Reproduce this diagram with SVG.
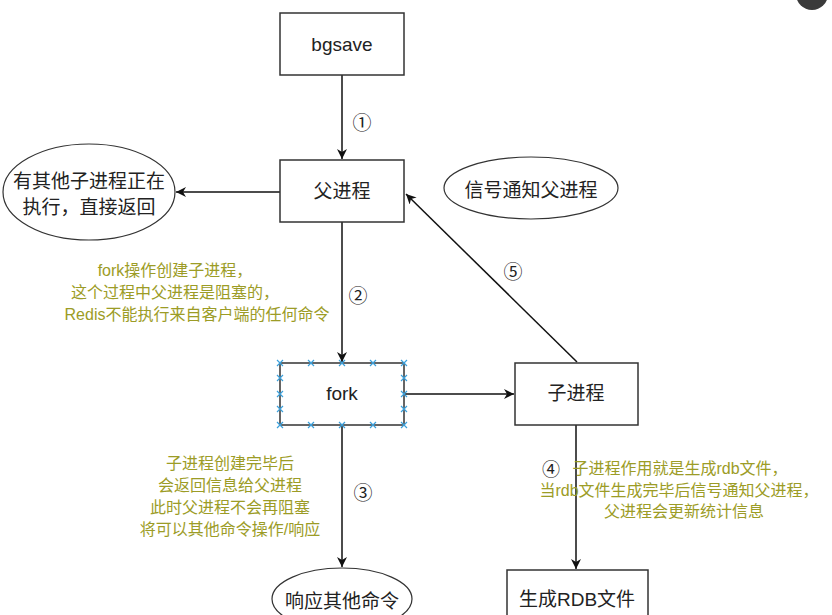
<svg xmlns="http://www.w3.org/2000/svg" width="832" height="615" viewBox="0 0 832 615">
<defs>
<style>
.box{fill:#fff;stroke:#333;stroke-width:1.5}
.ell{fill:#fff;stroke:#333;stroke-width:1.2}
.t{font-family:"Liberation Sans","Noto Sans CJK SC",sans-serif;font-size:19px;fill:#222;text-anchor:middle;dominant-baseline:central}
.n{font-family:"Noto Sans CJK SC","DejaVu Sans",sans-serif;font-size:19px;fill:#222;text-anchor:middle;dominant-baseline:central}
.a{font-family:"Liberation Sans","Noto Sans CJK SC",sans-serif;font-size:16px;fill:#9c9c26;text-anchor:middle;dominant-baseline:central}
.c{fill:none;stroke:#111;stroke-width:1.5}
.h{stroke:#3aa0dc;stroke-width:1.2}
</style>
<marker id="arr" viewBox="0 0 10 10" refX="10" refY="5" markerWidth="10" markerHeight="10" markerUnits="userSpaceOnUse" orient="auto">
<path d="M0,0 L10,5 L0,10 L3,5 z" fill="#111"/>
</marker>
<g id="hx"><path d="M-3,-3 L3,3 M-3,3 L3,-3" class="h"/></g>
</defs>
<rect width="832" height="615" fill="#fff"/>
<circle cx="812" cy="-6" r="16" fill="#3a3a3a"/>

<g id="connectors">
<line class="c" x1="342" y1="75" x2="342" y2="159" marker-end="url(#arr)"/>
<line class="c" x1="280" y1="192" x2="176" y2="192" marker-end="url(#arr)"/>
<line class="c" x1="342" y1="222" x2="342" y2="362" marker-end="url(#arr)"/>
<line class="c" x1="404" y1="394" x2="514" y2="394" marker-end="url(#arr)"/>
<line class="c" x1="342" y1="425" x2="342" y2="567" marker-end="url(#arr)"/>
<line class="c" x1="576" y1="425" x2="576" y2="569" marker-end="url(#arr)"/>
<line class="c" x1="577" y1="362" x2="406" y2="194" marker-end="url(#arr)"/>
<text class="n" x="362" y="121">①</text>
<text class="n" x="358" y="294">②</text>
<text class="n" x="363" y="491">③</text>
<text class="n" x="513" y="270">⑤</text>
</g>

<g id="bgsave"><rect class="box" x="280" y="13" width="124" height="62"/><text class="t" x="342" y="44">bgsave</text></g>
<g id="parent"><rect class="box" x="280" y="160" width="124" height="62"/><text class="t" x="342" y="191">父进程</text></g>
<g id="return"><ellipse class="ell" cx="89" cy="192" rx="86" ry="48"/><text class="t" x="89" y="181">有其他子进程正在</text><text class="t" x="89" y="207">执行，直接返回</text></g>
<g id="signal"><ellipse class="ell" cx="531" cy="188" rx="87" ry="31"/><text class="t" x="531" y="190">信号通知父进程</text></g>
<g id="fork"><rect class="box" x="280" y="363" width="124" height="62"/><text class="t" x="342" y="393">fork</text>
<use href="#hx" x="280" y="363"/><use href="#hx" x="311" y="363"/><use href="#hx" x="342" y="363"/><use href="#hx" x="373" y="363"/><use href="#hx" x="404" y="363"/>
<use href="#hx" x="280" y="378"/><use href="#hx" x="280" y="394"/><use href="#hx" x="280" y="409"/><use href="#hx" x="280" y="425"/>
<use href="#hx" x="404" y="378"/><use href="#hx" x="404" y="394"/><use href="#hx" x="404" y="409"/><use href="#hx" x="404" y="425"/>
<use href="#hx" x="311" y="425"/><use href="#hx" x="342" y="425"/><use href="#hx" x="373" y="425"/>
</g>
<g id="child"><rect class="box" x="515" y="363" width="123" height="62"/><text class="t" x="576" y="393">子进程</text></g>
<g id="respond"><ellipse class="ell" cx="342" cy="599" rx="70" ry="31"/><text class="t" x="342" y="601">响应其他命令</text></g>
<g id="rdb"><rect class="box" x="507" y="570" width="141" height="60"/><text class="t" x="577" y="599">生成RDB文件</text></g>

<g id="notes">
<text class="a" x="175" y="270">fork操作创建子进程，</text>
<text class="a" x="175" y="292">这个过程中父进程是阻塞的，</text>
<text class="a" x="197" y="314">Redis不能执行来自客户端的任何命令</text>
<text class="a" x="230" y="463">子进程创建完毕后</text>
<text class="a" x="230" y="485">会返回信息给父进程</text>
<text class="a" x="230" y="507">此时父进程不会再阻塞</text>
<text class="a" x="230" y="529">将可以其他命令操作/响应</text>
<text class="n" x="551" y="468" style="font-size:18px">④</text>
<text class="a" x="680" y="468">子进程作用就是生成rdb文件，</text>
<text class="a" x="679" y="490">当rdb文件生成完毕后信号通知父进程，</text>
<text class="a" x="684" y="511">父进程会更新统计信息</text>
</g>
</svg>
